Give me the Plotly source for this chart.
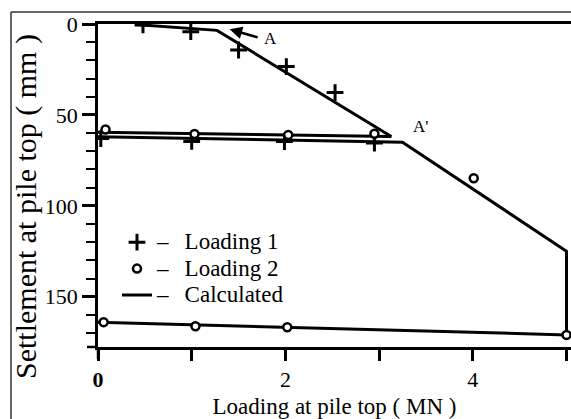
import plotly.graph_objects as go

# ---- data ----
load1_x = [0.48, 0.99, 1.50, 2.01, 2.53, 0.03, 1.00, 1.99, 2.95]
load1_y = [0.5, 4.2, 14.3, 23.4, 37.7, 63.0, 64.6, 64.7, 65.5]

load2_x = [0.08, 1.03, 2.03, 2.95, 4.01, 0.06, 1.04, 2.02, 5.00]
load2_y = [58.0, 60.5, 61.0, 60.4, 84.8, 164.0, 166.3, 166.8, 171.0]

calc_x = [0.40, 1.27, 3.13, 0.00, None, 0.00, 3.25, 5.00, 5.00, 0.00]
calc_y = [0.3, 3.5, 61.9, 59.5, None, 62.0, 65.0, 125.0, 171.0, 164.0]

x_tickvals = [0, 1, 2, 3, 4, 5]
x_ticktext = ["<b>0</b>", "", "2", "", "4", ""]
y_tickvals = [0, 50, 100, 150]

FONT = "Liberation Serif"
W, H = 571, 419
L, R, T, B = 98, 0, 24, 72
PW, PH = W - L - R, H - T - B


def px(xp):
    return (xp - L) / PW


def py(yp):
    return (H - B - yp) / PH


def leg(name):
    return ("<span style='font-size:23px'>–\u00a0\u00a0\u2009" + name + "</span>")


fig = go.Figure()

fig.add_trace(go.Scatter(
    x=calc_x, y=calc_y, mode="lines", name=leg("Calculated"),
    line=dict(color="black", width=3), legendrank=3, connectgaps=False,
))
fig.add_trace(go.Scatter(
    x=load1_x, y=load1_y, mode="markers", name=leg("Loading 1"),
    marker=dict(symbol="cross-thin", size=12, color="black",
                line=dict(color="black", width=3)),
    legendrank=1,
))
fig.add_trace(go.Scatter(
    x=load2_x, y=load2_y, mode="markers", name=leg("Loading 2"),
    marker=dict(symbol="circle", size=8, color="white",
                line=dict(color="black", width=2.5)),
    legendrank=2,
))

fig.add_annotation(x=1.405, y=2.9, ax=1.72, ay=7.6, axref="x", ayref="y",
                   xref="x", yref="y", text="", showarrow=True,
                   arrowhead=2, arrowsize=1, arrowwidth=2.5, arrowcolor="black")
fig.add_annotation(x=1.84, y=8.0, xref="x", yref="y", text="A",
                   showarrow=False, font=dict(family=FONT, size=17, color="black"),
                   xanchor="center", yanchor="middle")
fig.add_annotation(x=3.44, y=56.5, xref="x", yref="y", text="A'",
                   showarrow=False, font=dict(family=FONT, size=17, color="black"),
                   xanchor="center", yanchor="middle")
# y-axis title placed as an annotation for exact position
fig.add_annotation(x=px(26), y=py(207), xref="paper", yref="paper",
                   text="Settlement at pile top ( mm )", textangle=-90,
                   showarrow=False, xanchor="center", yanchor="middle",
                   font=dict(family=FONT, size=30, color="black"))

shapes = [
    # outer frame (left + top)
    dict(type="line", xref="paper", yref="paper", x0=px(11), x1=px(11),
         y0=py(12), y1=py(H + 2), line=dict(color="#333", width=1.5)),
    dict(type="line", xref="paper", yref="paper", x0=px(11), x1=px(W + 2),
         y0=py(12), y1=py(12), line=dict(color="#333", width=1.5)),
    # axis extensions
    dict(type="line", xref="paper", yref="paper", x0=0, x1=0,
         y0=0, y1=py(359), line=dict(color="black", width=2.5)),
    dict(type="line", xref="paper", yref="paper", x0=px(87), x1=0,
         y0=0, y1=0, line=dict(color="black", width=2.5)),
]

fig.update_layout(
    width=W, height=H,
    margin=dict(l=L, r=R, t=T, b=B, pad=0),
    paper_bgcolor="white", plot_bgcolor="white",
    font=dict(family=FONT, size=22, color="black"),
    shapes=shapes,
    showlegend=True,
    legend=dict(x=px(117), y=py(224), xanchor="left", yanchor="top",
                bgcolor="rgba(0,0,0,0)", font=dict(family=FONT, size=18),
                tracegroupgap=0, itemwidth=30, borderwidth=0),
    xaxis=dict(range=[0, PW / 93.7], showgrid=False, zeroline=False,
               showline=True, linecolor="black", linewidth=2.5, mirror=True,
               ticks="outside", ticklen=11, tickwidth=2.5, tickcolor="black",
               tickvals=x_tickvals, ticktext=x_ticktext,
               tickfont=dict(family=FONT, size=22),
               title=dict(text="Loading at pile top ( MN )", standoff=7,
                          font=dict(family=FONT, size=23))),
    yaxis=dict(range=[PH / 1.818, 0], showgrid=False, zeroline=False,
               showline=True, linecolor="black", linewidth=2.5,
               ticks="outside", ticklen=13, tickwidth=2.5, tickcolor="black",
               tickvals=y_tickvals,
               tickfont=dict(family=FONT, size=22),
               minor=dict(dtick=10, ticks="outside", ticklen=9, tickwidth=2,
                          tickcolor="black", showgrid=False)),
)

fig.write_html("out.html", config={"displayModeBar": False},
               post_script="document.body.style.margin='0';")
